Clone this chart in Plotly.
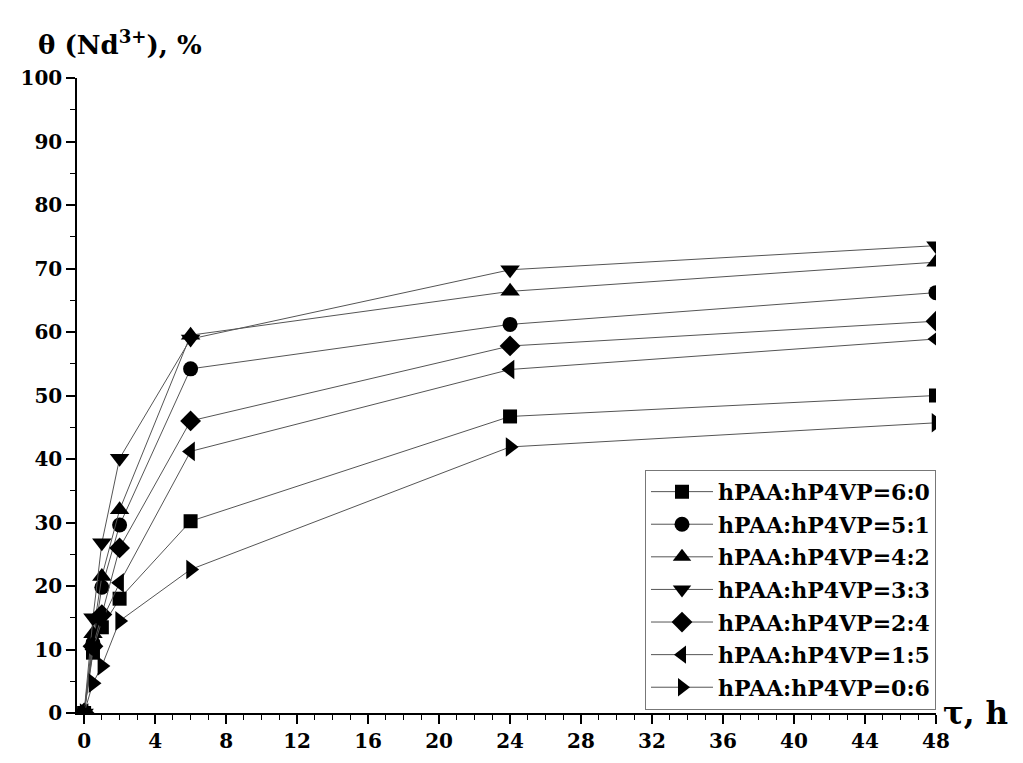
import plotly.graph_objects as go

times = [0, 0.5, 1, 2, 6, 24, 48]
names = ["hPAA:hP4VP=6:0", "hPAA:hP4VP=5:1", "hPAA:hP4VP=4:2", "hPAA:hP4VP=3:3",
         "hPAA:hP4VP=2:4", "hPAA:hP4VP=1:5", "hPAA:hP4VP=0:6"]
s60 = [0, 9.5, 13.5, 18.0, 30.2, 46.7, 50.0]
s51 = [0, 11.0, 19.8, 29.6, 54.2, 61.2, 66.2]
s42 = [0, 12.5, 21.5, 32.0, 59.5, 66.4, 71.0]
s33 = [0, 15.0, 26.8, 40.1, 58.9, 69.8, 73.6]
s24 = [0, 10.5, 15.5, 26.0, 46.0, 57.8, 61.7]
s15 = [0, 10.0, 14.5, 20.5, 41.2, 54.1, 58.9]
s06 = [0, 4.7, 7.4, 14.5, 22.6, 41.9, 45.7]
series = [s60, s51, s42, s33, s24, s15, s06]
symbols = ["square", "circle", "triangle-up", "triangle-down", "diamond",
           "triangle-left", "triangle-right"]
sizes = [14, 15, 17, 17, 16, 17, 17]

font_family = "DejaVu Serif"

fig = go.Figure()
for i, (nm, ys, sym, sz) in enumerate(zip(names, series, symbols, sizes)):
    fig.add_trace(go.Scatter(
        x=times, y=ys, name=nm, mode="lines+markers",
        line=dict(color="#555555", width=1),
        marker=dict(symbol=sym, size=sz, color="black"),
        legendgroup=f"g{i}",
    ))

fig.update_layout(
    width=1015, height=757,
    margin=dict(l=63, r=87, t=70, b=50),
    plot_bgcolor="white", paper_bgcolor="white",
    font=dict(family=font_family, size=20, color="black"),
    showlegend=True,
    legend=dict(
        x=1, y=0.005, xanchor="right", yanchor="bottom",
        bordercolor="#777777", borderwidth=1, bgcolor="white",
        font=dict(family=font_family, size=22, color="black", weight="bold"),
        itemwidth=62, tracegroupgap=1,
    ),
    xaxis=dict(
        range=[-0.4, 48], tickmode="linear", tick0=0, dtick=4,
        showgrid=False, zeroline=False, showline=True, linecolor="black", linewidth=1.5,
        ticks="outside", ticklen=9, tickwidth=1.5, tickcolor="black",
        minor=dict(dtick=1, ticks="outside", ticklen=5, tickwidth=1.2, tickcolor="black"),
        tickfont=dict(family=font_family, size=20, weight="bold"),
    ),
    yaxis=dict(
        range=[0, 100], tickmode="linear", tick0=0, dtick=10,
        showgrid=False, zeroline=False, showline=True, linecolor="black", linewidth=1.5,
        ticks="outside", ticklen=9, tickwidth=1.5, tickcolor="black",
        minor=dict(dtick=5, ticks="outside", ticklen=5, tickwidth=1.2, tickcolor="black"),
        tickfont=dict(family=font_family, size=20, weight="bold"),
    ),
    annotations=[
        dict(text="<b>θ (Nd<sup>3+</sup>), %</b>", xref="paper", yref="paper",
             x=-0.048, y=1.055, xanchor="left", yanchor="middle", showarrow=False,
             font=dict(family=font_family, size=26, color="black")),
        dict(text="<b>τ, h</b>", xref="paper", yref="paper",
             x=1.006, y=0, xanchor="left", yanchor="middle", showarrow=False,
             font=dict(family=font_family, size=31, color="black")),
    ],
)

fig.write_html("out.html")
